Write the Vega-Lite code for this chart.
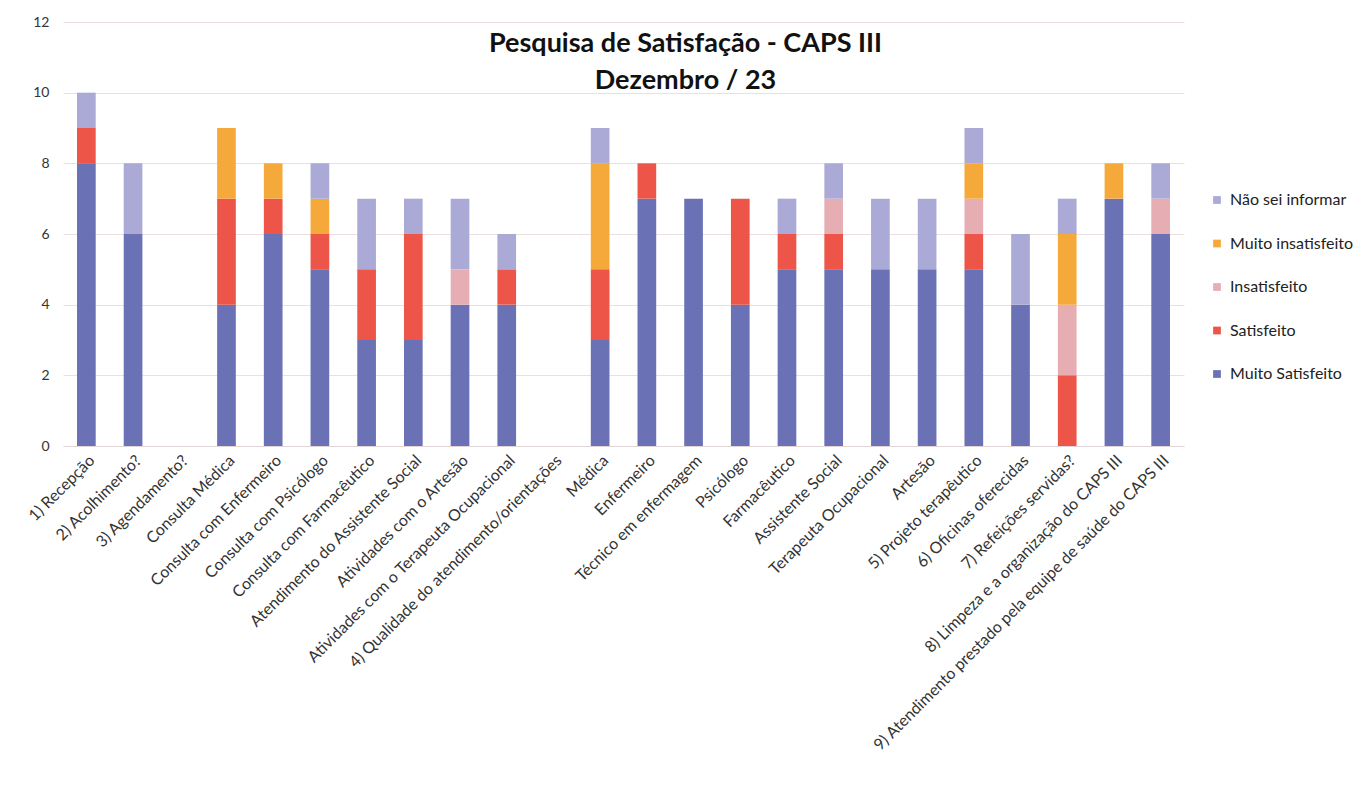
{
  "$schema": "https://vega.github.io/schema/vega-lite/v6.json",
  "autosize": {"type": "none"},
  "padding": {"left": 63, "top": 22, "right": 182, "bottom": 345},
  "width": 1121,
  "height": 424,
  "background": "white",
  "title": {
    "text": ["Pesquisa de Satisfação - CAPS III", "Dezembro / 23"],
    "anchor": "middle",
    "baseline": "top",
    "offset": 0,
    "dx": 62,
    "dy": 80,
    "fontSize": 27,
    "lineHeight": 37,
    "font": "Lato",
    "fontWeight": "bold",
    "color": "#111"
  },
  "config": {
    "view": {"stroke": null},
    "font": "Lato"
  },
  "data": {
    "values": [
      {"cat": "1) Recepção", "resp": "Muito Satisfeito", "v": 8},
      {"cat": "1) Recepção", "resp": "Satisfeito", "v": 1},
      {"cat": "1) Recepção", "resp": "Não sei informar", "v": 1},
      {"cat": "2) Acolhimento?", "resp": "Muito Satisfeito", "v": 6},
      {"cat": "2) Acolhimento?", "resp": "Não sei informar", "v": 2},
      {"cat": "3) Agendamento?", "resp": "Muito Satisfeito", "v": 0},
      {"cat": "Consulta Médica", "resp": "Muito Satisfeito", "v": 4},
      {"cat": "Consulta Médica", "resp": "Satisfeito", "v": 3},
      {"cat": "Consulta Médica", "resp": "Muito insatisfeito", "v": 2},
      {"cat": "Consulta com Enfermeiro", "resp": "Muito Satisfeito", "v": 6},
      {"cat": "Consulta com Enfermeiro", "resp": "Satisfeito", "v": 1},
      {"cat": "Consulta com Enfermeiro", "resp": "Muito insatisfeito", "v": 1},
      {"cat": "Consulta com Psicólogo", "resp": "Muito Satisfeito", "v": 5},
      {"cat": "Consulta com Psicólogo", "resp": "Satisfeito", "v": 1},
      {"cat": "Consulta com Psicólogo", "resp": "Muito insatisfeito", "v": 1},
      {"cat": "Consulta com Psicólogo", "resp": "Não sei informar", "v": 1},
      {"cat": "Consulta com Farmacêutico", "resp": "Muito Satisfeito", "v": 3},
      {"cat": "Consulta com Farmacêutico", "resp": "Satisfeito", "v": 2},
      {"cat": "Consulta com Farmacêutico", "resp": "Não sei informar", "v": 2},
      {"cat": "Atendimento do Assistente Social", "resp": "Muito Satisfeito", "v": 3},
      {"cat": "Atendimento do Assistente Social", "resp": "Satisfeito", "v": 3},
      {"cat": "Atendimento do Assistente Social", "resp": "Não sei informar", "v": 1},
      {"cat": "Atividades com o Artesão", "resp": "Muito Satisfeito", "v": 4},
      {"cat": "Atividades com o Artesão", "resp": "Insatisfeito", "v": 1},
      {"cat": "Atividades com o Artesão", "resp": "Não sei informar", "v": 2},
      {"cat": "Atividades com o Terapeuta Ocupacional", "resp": "Muito Satisfeito", "v": 4},
      {"cat": "Atividades com o Terapeuta Ocupacional", "resp": "Satisfeito", "v": 1},
      {"cat": "Atividades com o Terapeuta Ocupacional", "resp": "Não sei informar", "v": 1},
      {"cat": "4) Qualidade do atendimento/orientações", "resp": "Muito Satisfeito", "v": 0},
      {"cat": "Médica", "resp": "Muito Satisfeito", "v": 3},
      {"cat": "Médica", "resp": "Satisfeito", "v": 2},
      {"cat": "Médica", "resp": "Muito insatisfeito", "v": 3},
      {"cat": "Médica", "resp": "Não sei informar", "v": 1},
      {"cat": "Enfermeiro", "resp": "Muito Satisfeito", "v": 7},
      {"cat": "Enfermeiro", "resp": "Satisfeito", "v": 1},
      {"cat": "Técnico em enfermagem", "resp": "Muito Satisfeito", "v": 7},
      {"cat": "Psicólogo", "resp": "Muito Satisfeito", "v": 4},
      {"cat": "Psicólogo", "resp": "Satisfeito", "v": 3},
      {"cat": "Farmacêutico", "resp": "Muito Satisfeito", "v": 5},
      {"cat": "Farmacêutico", "resp": "Satisfeito", "v": 1},
      {"cat": "Farmacêutico", "resp": "Não sei informar", "v": 1},
      {"cat": "Assistente Social", "resp": "Muito Satisfeito", "v": 5},
      {"cat": "Assistente Social", "resp": "Satisfeito", "v": 1},
      {"cat": "Assistente Social", "resp": "Insatisfeito", "v": 1},
      {"cat": "Assistente Social", "resp": "Não sei informar", "v": 1},
      {"cat": "Terapeuta Ocupacional", "resp": "Muito Satisfeito", "v": 5},
      {"cat": "Terapeuta Ocupacional", "resp": "Não sei informar", "v": 2},
      {"cat": "Artesão", "resp": "Muito Satisfeito", "v": 5},
      {"cat": "Artesão", "resp": "Não sei informar", "v": 2},
      {"cat": "5) Projeto terapêutico", "resp": "Muito Satisfeito", "v": 5},
      {"cat": "5) Projeto terapêutico", "resp": "Satisfeito", "v": 1},
      {"cat": "5) Projeto terapêutico", "resp": "Insatisfeito", "v": 1},
      {"cat": "5) Projeto terapêutico", "resp": "Muito insatisfeito", "v": 1},
      {"cat": "5) Projeto terapêutico", "resp": "Não sei informar", "v": 1},
      {"cat": "6) Oficinas oferecidas", "resp": "Muito Satisfeito", "v": 4},
      {"cat": "6) Oficinas oferecidas", "resp": "Não sei informar", "v": 2},
      {"cat": "7) Refeições servidas?", "resp": "Satisfeito", "v": 2},
      {"cat": "7) Refeições servidas?", "resp": "Insatisfeito", "v": 2},
      {"cat": "7) Refeições servidas?", "resp": "Muito insatisfeito", "v": 2},
      {"cat": "7) Refeições servidas?", "resp": "Não sei informar", "v": 1},
      {"cat": "8) Limpeza e a organização do CAPS III", "resp": "Muito Satisfeito", "v": 7},
      {"cat": "8) Limpeza e a organização do CAPS III", "resp": "Muito insatisfeito", "v": 1},
      {"cat": "9) Atendimento prestado pela equipe de saúde do CAPS III", "resp": "Muito Satisfeito", "v": 6},
      {"cat": "9) Atendimento prestado pela equipe de saúde do CAPS III", "resp": "Insatisfeito", "v": 1},
      {"cat": "9) Atendimento prestado pela equipe de saúde do CAPS III", "resp": "Não sei informar", "v": 1}
    ]
  },
  "transform": [
    {"calculate": "indexof(['Muito Satisfeito','Satisfeito','Insatisfeito','Muito insatisfeito','Não sei informar'], datum.resp)", "as": "ord"}
  ],
  "mark": {"type": "bar"},
  "encoding": {
    "x": {
      "field": "cat",
      "type": "nominal",
      "sort": null,
      "scale": {"paddingInner": 0.6, "paddingOuter": 0.3},
      "axis": {
        "title": null,
        "labelAngle": -45,
        "labelAlign": "right",
        "labelBaseline": "top",
        "labelFontSize": 16,
        "labelColor": "#333",
        "labelLimit": 700,
        "labelPadding": 6,
        "ticks": false,
        "domainColor": "#e0d6d8",
        "grid": false
      }
    },
    "y": {
      "field": "v",
      "type": "quantitative",
      "stack": "zero",
      "scale": {"domain": [0, 12], "nice": false},
      "axis": {
        "title": null,
        "values": [0, 2, 4, 6, 8, 10, 12],
        "labelFontSize": 14,
        "labelColor": "#333",
        "labelPadding": 14,
        "ticks": false,
        "domain": false,
        "gridColor": "#ecdfe1",
        "gridWidth": 1
      }
    },
    "color": {
      "field": "resp",
      "type": "nominal",
      "scale": {
        "domain": ["Não sei informar", "Muito insatisfeito", "Insatisfeito", "Satisfeito", "Muito Satisfeito"],
        "range": ["#abaad6", "#f6a93b", "#e6adb3", "#ec5548", "#6a72b5"]
      },
      "legend": {
        "title": null,
        "orient": "none",
        "legendX": 1146,
        "legendY": 170,
        "symbolType": "square",
        "symbolSize": 60,
        "labelFontSize": 16,
        "labelColor": "#222",
        "rowPadding": 27.5,
        "labelOffset": 5
      }
    },
    "order": {"field": "ord", "type": "quantitative"}
  }
}
